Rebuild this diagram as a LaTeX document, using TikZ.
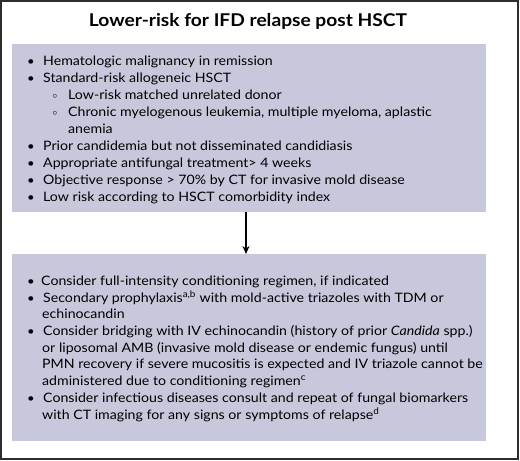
\documentclass[tikz,border=0pt]{standalone}
\usepackage{fontspec}
\setmainfont{Lato}[FakeStretch=1.09]
\usetikzlibrary{arrows.meta}
\definecolor{boxfill}{RGB}{199,200,219}
\definecolor{framec}{RGB}{45,45,45}
\begin{document}
\begin{tikzpicture}[x={(1pt,0)},y={(0,-1pt)},
  boxst/.style={fill=boxfill,draw=none,inner sep=0,outer sep=0},
  txt/.style={anchor=base west,inner sep=0,font=\fontsize{13}{16}\selectfont},
  bul/.style={anchor=base,inner sep=0,font=\fontsize{12}{16}\selectfont},
  sbul/.style={anchor=base,inner sep=0,font=\fontsize{9}{10}\selectfont},
  arr/.style={-{Stealth[length=8pt,width=7pt]},line width=1.3pt,black}]
\useasboundingbox (0,0) rectangle (520,461);
\draw[framec,line width=1.6pt] (1,1) rectangle (518,459);
\node[anchor=base,inner sep=0,font=\fontsize{17.6}{20}\selectfont\bfseries] (title) at (248,26) {Lower-risk for IFD relapse post HSCT};
\node[boxst,minimum width=474pt,minimum height=168pt] (top) at (249,128) {};
\node[boxst,minimum width=474pt,minimum height=187pt] (bot) at (249,347.5) {};
\draw[arr] ([xshift=-3pt]top.south) -- ([xshift=-3pt]bot.north);
% top box
\node[bul] (b1) at (31,65) {•};
\node[txt] (t1) at (43,65) {Hematologic malignancy in remission};
\node[bul] (b2) at (31,82) {•};
\node[txt] (t2) at (43,82) {Standard-risk allogeneic HSCT};
\node[sbul] (s1) at (55,98) {$\circ$};
\node[txt] (t3) at (68,99) {Low-risk matched unrelated donor};
\node[sbul] (s2) at (55,115) {$\circ$};
\node[txt] (t4) at (68,116) {Chronic myelogenous leukemia, multiple myeloma, aplastic};
\node[txt] (t5) at (68,133) {anemia};
\node[bul] (b3) at (31,150) {•};
\node[txt] (t6) at (43,150) {Prior candidemia but not disseminated candidiasis};
\node[bul] (b4) at (31,167) {•};
\node[txt] (t7) at (43,167) {Appropriate antifungal treatment> 4 weeks};
\node[bul] (b5) at (31,184) {•};
\node[txt] (t8) at (43,184) {Objective response > 70\% by CT for invasive mold disease};
\node[bul] (b6) at (31,201) {•};
\node[txt] (t9) at (43,201) {Low risk according to HSCT comorbidity index};
% bottom box
\node[bul] (c1) at (31,285) {•};
\node[txt] (u1) at (41,285) {Consider full-intensity conditioning regimen, if indicated};
\node[bul] (c2) at (31,302) {•};
\node[txt] (u2) at (43,302) {Secondary prophylaxis\textsuperscript{a,b} with mold-active triazoles with TDM or};
\node[txt] (u3) at (42,318) {echinocandin};
\node[bul] (c3) at (31,335) {•};
\node[txt] (u4) at (43,335) {Consider bridging with IV echinocandin (history of prior \textit{Candida} spp.)};
\node[txt] (u5) at (42,352) {or liposomal AMB (invasive mold disease or endemic fungus) until};
\node[txt] (u6) at (42,368) {PMN recovery if severe mucositis is expected and IV triazole cannot be};
\node[txt] (u7) at (42,385) {administered due to conditioning regimen\textsuperscript{c}};
\node[bul] (c4) at (31,402) {•};
\node[txt] (u8) at (43,402) {Consider infectious diseases consult and repeat of fungal biomarkers};
\node[txt] (u9) at (42,419) {with CT imaging for any signs or symptoms of relapse\textsuperscript{d}};
\end{tikzpicture}
\end{document}
